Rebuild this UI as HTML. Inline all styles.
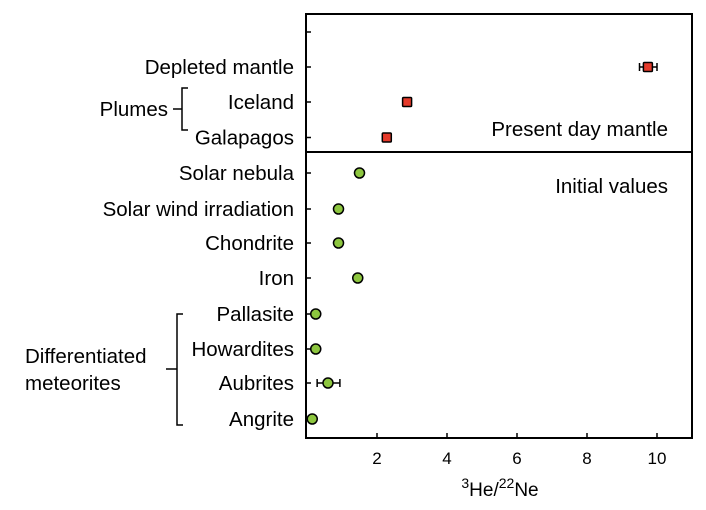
<!DOCTYPE html>
<html><head><meta charset="utf-8"><style>
body{margin:0;background:#fff}
svg text{font-family:"Liberation Sans",sans-serif}
</style></head><body>
<svg id="c" width="706" height="505">
<g id="g"></g>
</svg>
<script>
const categories=["Depleted mantle","Iceland","Galapagos","Solar nebula","Solar wind irradiation","Chondrite","Iron","Pallasite","Howardites","Aubrites","Angrite"];
const values=[9.74,2.86,2.28,1.5,0.9,0.9,1.45,0.25,0.25,0.6,0.15];
const errLow=[9.5,null,null,null,null,null,null,null,null,0.29,null];
const errHigh=[10.0,null,null,null,null,null,null,null,null,0.94,null];
const groups=["present","present","present","initial","initial","initial","initial","initial","initial","initial","initial"];
const xTicks=[2,4,6,8,10];
const rowY=[67,102,137.5,173,209,243,278,314,349,383,419];
const L=306,R=692,T=14,B=438;
const xs=v=>307+v*35;
const ns="http://www.w3.org/2000/svg",g=document.getElementById('g');
function el(t,a,txt){const e=document.createElementNS(ns,t);for(const k in a)e.setAttribute(k,a[k]);if(txt!=null)e.textContent=txt;g.appendChild(e);return e;}
let e=el('rect',{x:L,y:T,width:R-L,height:B-T,fill:'none',stroke:'#000','stroke-width':2});

e=el('line',{x1:L,x2:R,y1:152,y2:152,stroke:'#000','stroke-width':2});

xTicks.forEach(t=>{
 let k=el('line',{x1:xs(t),x2:xs(t),y1:B,y2:B-5,stroke:'#000','stroke-width':1.5});
 
 let l=el('text',{x:xs(t),y:B+26,'text-anchor':'middle','font-size':17},t);
 
});
[32].concat(rowY).forEach(y=>{
 let k=el('line',{x1:L,x2:L+5,y1:y,y2:y,stroke:'#000','stroke-width':1.5});
 
});
categories.forEach((c,i)=>{
 let l=el('text',{x:294,y:rowY[i]+7,'text-anchor':'end','font-size':20.5},c);
 
 const y=rowY[i],x=xs(values[i]);
 if(errLow[i]!=null){
  let a=el('path',{d:`M${xs(errLow[i])},${y}H${xs(errHigh[i])}M${xs(errLow[i])},${y-4}v8M${xs(errHigh[i])},${y-4}v8`,stroke:'#000','stroke-width':1.5,fill:'none'});
  
 }
 let m;
 if(groups[i]=='present'){m=el('rect',{x:x-4.5,y:y-4.5,width:9,height:9,fill:'#e53a2b',stroke:'#000','stroke-width':1.5,rx:1});}
 else{m=el('circle',{cx:x,cy:y,r:5,fill:'#8dc63f',stroke:'#000','stroke-width':1.5});}
 
});
e=el('text',{x:668,y:136,'text-anchor':'end','font-size':20.5},'Present day mantle');

e=el('text',{x:668,y:193,'text-anchor':'end','font-size':20.5},'Initial values');

e=el('text',{x:500,y:496,'text-anchor':'middle','font-size':19},'');
e.innerHTML='<tspan dy="-8" font-size="14">3</tspan><tspan dy="8">He/</tspan><tspan dy="-8" font-size="14">22</tspan><tspan dy="8">Ne</tspan>';

e=el('path',{d:'M188,88H182V130H188M182,109H173',stroke:'#000','stroke-width':1.5,fill:'none'});

e=el('text',{x:168,y:116,'text-anchor':'end','font-size':20.5},'Plumes');

e=el('path',{d:'M183,314H177V425H183M177,369H166',stroke:'#000','stroke-width':1.5,fill:'none'});

e=el('text',{x:25,y:363,'font-size':20.5},'Differentiated');

e=el('text',{x:25,y:390,'font-size':20.5},'meteorites');

</script>
</body></html>
